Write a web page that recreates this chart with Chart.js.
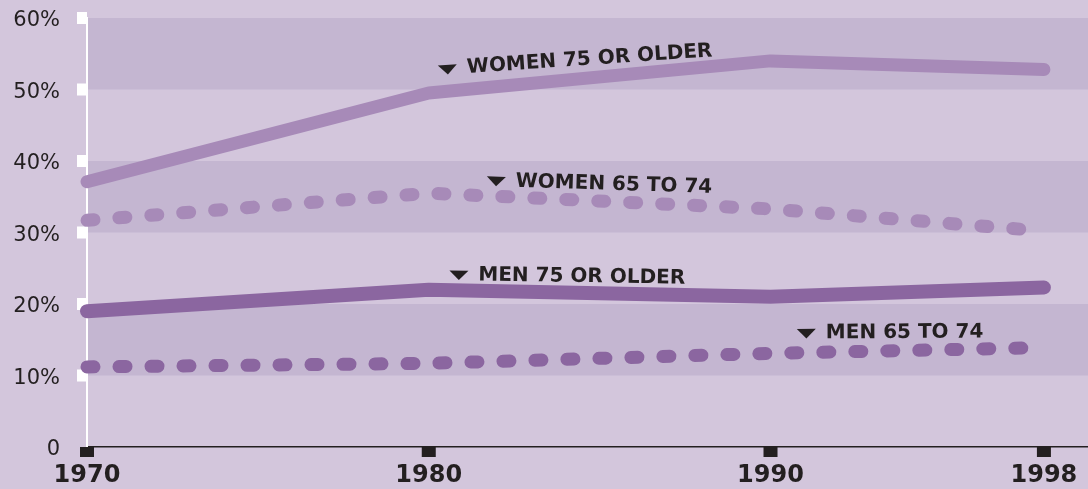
<!DOCTYPE html>
<html lang="en">
<head>
    <meta charset="UTF-8">
    <title>Living alone by age and sex, 1970-1998</title>
    <script src="https://cdn.jsdelivr.net/npm/chart.js"></script>
    <style>
        html, body {
            margin: 0;
            padding: 0;
            background-color: #d3c6dc;
        }
        #wrap {
            position: relative;
            width: 1088px;
            height: 489px;
        }
    </style>
</head>
<body>
    <div id="wrap"><canvas id="chart"></canvas></div>

    <script>
        // data (percent)
        const years = [1970, 1980, 1990, 1998];
        const women75 = [37.1, 49.5, 54.0, 52.8];
        const women65 = [31.7, 35.5, 33.3, 30.2];
        const men75 = [19.0, 22.0, 21.0, 22.3];
        const men65 = [11.2, 11.7, 13.1, 13.9];
        const yTicks = [0, 10, 20, 30, 40, 50, 60];
        const xTicks = [1970, 1980, 1990, 1998];
        const bands = [[10, 20], [30, 40], [50, 60]];
        const seriesNames = ['WOMEN 75 OR OLDER', 'WOMEN 65 TO 74', 'MEN 75 OR OLDER', 'MEN 65 TO 74'];

        const BG = '#d3c6dc';
        const BAND = '#c4b6d1';
        const WOMEN = '#a78ab8';
        const MEN = '#8b66a0';
        const INK = '#231f20';

        // where each series name sits (left end of the text baseline), in data units
        const notes = [
            { text: seriesNames[0], year: 1981.13, value: 52.3, angle: -3.9 },
            { text: seriesNames[1], year: 1982.54, value: 36.4, angle: 1.8 },
            { text: seriesNames[2], year: 1981.45, value: 23.3, angle: 0.9 },
            { text: seriesNames[3], year: 1991.62, value: 15.2, angle: -0.3 }
        ];

        function points(vals) {
            return years.map((yr, i) => ({ x: yr, y: vals[i] }));
        }

        const backdrop = {
            id: 'backdrop',
            beforeDraw(chart) {
                const { ctx, chartArea, scales: { y } } = chart;
                ctx.save();
                ctx.fillStyle = BG;
                ctx.fillRect(0, 0, chart.width, chart.height);
                ctx.fillStyle = BAND;
                bands.forEach(b => {
                    const top = y.getPixelForValue(b[1]);
                    const bot = y.getPixelForValue(b[0]);
                    ctx.fillRect(chartArea.left, top, chartArea.right - chartArea.left, bot - top);
                });
                ctx.restore();
            },
            beforeDatasetsDraw(chart) {
                const { ctx, chartArea, scales: { x, y } } = chart;
                ctx.save();
                // white square ticks on the value axis
                ctx.fillStyle = '#ffffff';
                yTicks.slice(1).forEach(v => {
                    const py = y.getPixelForValue(v);
                    ctx.fillRect(chartArea.left - 10, py - 6, 10, 12);
                });
                // black square ticks on the year axis
                ctx.fillStyle = INK;
                xTicks.forEach(v => {
                    const px = x.getPixelForValue(v);
                    ctx.fillRect(px - 7, chartArea.bottom, 14, 10);
                });
                ctx.restore();
            }
        };

        const seriesLabels = {
            id: 'seriesLabels',
            afterDatasetsDraw(chart) {
                const { ctx, scales: { x, y } } = chart;
                ctx.save();
                ctx.fillStyle = INK;
                ctx.font = 'bold 20px "DejaVu Sans"';
                ctx.textBaseline = 'alphabetic';
                ctx.textAlign = 'left';
                notes.forEach(n => {
                    ctx.save();
                    ctx.translate(x.getPixelForValue(n.year), y.getPixelForValue(n.value));
                    ctx.rotate(n.angle * Math.PI / 180);
                    ctx.fillText(n.text, 0, 0);
                    ctx.beginPath();
                    ctx.moveTo(-29, -9.5);
                    ctx.lineTo(-10, -9.5);
                    ctx.lineTo(-19.5, 0);
                    ctx.closePath();
                    ctx.fill();
                    ctx.restore();
                });
                ctx.restore();
            }
        };

        new Chart(document.getElementById('chart'), {
            type: 'line',
            data: {
                datasets: [
                    { label: seriesNames[0], data: points(women75), borderColor: WOMEN, borderWidth: 13 },
                    { label: seriesNames[1], data: points(women65), borderColor: WOMEN, borderWidth: 13, borderDash: [7, 25] },
                    { label: seriesNames[2], data: points(men75), borderColor: MEN, borderWidth: 14 },
                    { label: seriesNames[3], data: points(men65), borderColor: MEN, borderWidth: 13, borderDash: [7, 25] }
                ]
            },
            options: {
                responsive: true,
                maintainAspectRatio: false,
                animation: false,
                clip: false,
                layout: { padding: { top: 18, right: 0, left: 0, bottom: 0 } },
                elements: {
                    line: { tension: 0, borderCapStyle: 'round', borderJoinStyle: 'round', fill: false },
                    point: { radius: 0, hoverRadius: 0 }
                },
                plugins: {
                    legend: { display: false },
                    tooltip: { enabled: false }
                },
                scales: {
                    x: {
                        type: 'linear',
                        min: 1970,
                        max: 1999.29,
                        afterBuildTicks: s => { s.ticks = xTicks.map(v => ({ value: v })); },
                        afterFit: s => {
                            s.height = 42;
                            s.paddingLeft = 0;
                            s.paddingRight = 0;
                        },
                        grid: { display: false },
                        border: { display: true, color: INK, width: 1.5 },
                        ticks: {
                            autoSkip: false,
                            maxRotation: 0,
                            padding: 6,
                            color: INK,
                            font: { family: '"DejaVu Sans"', size: 24, weight: 'bold' },
                            callback: v => String(v)
                        }
                    },
                    y: {
                        min: 0,
                        max: 60,
                        afterBuildTicks: s => { s.ticks = yTicks.map(v => ({ value: v })); },
                        afterFit: s => {
                            s.width = 87;
                            s.paddingTop = 0;
                            s.paddingBottom = 0;
                        },
                        grid: { display: false },
                        border: { display: true, color: '#ffffff', width: 2 },
                        ticks: {
                            padding: 19,
                            labelOffset: 3,
                            color: INK,
                            font: { family: '"DejaVu Sans"', size: 21 },
                            callback: v => v === 0 ? '0' : v + '%'
                        }
                    }
                }
            },
            plugins: [backdrop, seriesLabels]
        });
    </script>
</body>
</html>
